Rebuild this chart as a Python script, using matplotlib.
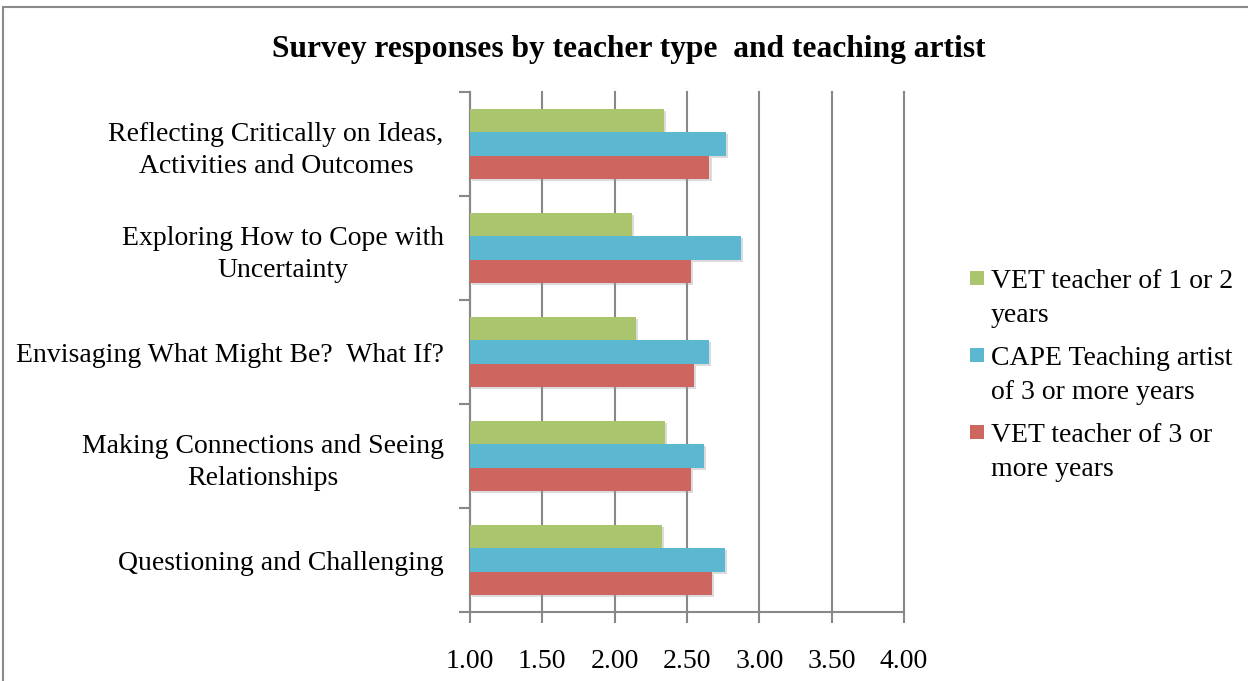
import matplotlib
matplotlib.use("Agg")
import matplotlib.pyplot as plt
import numpy as np
from matplotlib.patches import Rectangle
import matplotlib.patheffects as pe

categories = [
    "Reflecting Critically on Ideas,\nActivities and Outcomes",
    "Exploring How to Cope with\nUncertainty",
    "Envisaging What Might Be?  What If?",
    "Making Connections and Seeing\nRelationships",
    "Questioning and Challenging",
]
series_names = [
    "VET teacher of 1 or 2\nyears",
    "CAPE Teaching artist\nof 3 or more years",
    "VET teacher of 3 or\nmore years",
]
vet_1_2 = [2.34, 2.12, 2.15, 2.35, 2.33]
cape_3 = [2.77, 2.87, 2.65, 2.62, 2.76]
vet_3 = [2.655, 2.53, 2.55, 2.53, 2.67]
colors = ["#ABC46E", "#5BB8D0", "#CC665F"]
xticks = [1.0, 1.5, 2.0, 2.5, 3.0, 3.5, 4.0]
title = "Survey responses by teacher type  and teaching artist"

FONT = "Liberation Serif"
plt.rcParams["font.family"] = [FONT, "DejaVu Serif"]
FS = 20

fig = plt.figure(figsize=(12.48, 6.81), dpi=100)
ax = fig.add_axes([470/1248, 1-612/681, 434/1248, 520/681])

n = len(categories)
ypos = np.arange(n)[::-1]  # first category on top
h = 0.224
series = [vet_1_2, cape_3, vet_3]
offsets = [h, 0.0, -h]
shadow = [pe.SimplePatchShadow(offset=(1.5, -1.5), shadow_rgbFace="#999999", alpha=0.35), pe.Normal()]
for vals, off, c in zip(series, offsets, colors):
    bars = ax.barh(ypos + off, np.array(vals) - 1.0, left=1.0, height=h, color=c, zorder=3)
    for b in bars:
        b.set_path_effects(shadow)

ax.set_xlim(1.0, 4.0)
ax.set_ylim(-0.5, n - 0.5)
ax.set_xticks(xticks)
ax.set_xticklabels([f"{v:.2f}" for v in xticks], fontsize=FS)
ax.set_yticks(ypos)
ax.set_yticklabels(categories, fontsize=FS, multialignment="center", linespacing=1.35)
ax.set_yticks(np.arange(-0.5, n, 1.0), minor=True)
ax.tick_params(axis="y", which="major", length=0, pad=19)
ax.tick_params(axis="y", which="minor", length=8, width=1.5, color="#888888")
ax.tick_params(axis="x", which="major", length=8, width=1.5, color="#888888", pad=19)
ax.grid(axis="x", color="#888888", linewidth=1.5, zorder=0)
for gl in ax.get_xgridlines():
    gl.set_clip_on(False)
ax.set_axisbelow(True)
for s in ["top", "right"]:
    ax.spines[s].set_visible(False)
for s in ["left", "bottom"]:
    ax.spines[s].set_color("#888888")
    ax.spines[s].set_linewidth(1.5)

fig.text(629/1248, 1-49/681, title, ha="center", va="center", fontsize=22.7, fontweight="bold")

# legend drawn manually (square aligned with first text line)
lx = 970/1248
ly0 = 278
for i, (name, c) in enumerate(zip(series_names, colors)):
    yc = ly0 + i * 77
    fig.patches.append(Rectangle((lx, 1-(yc+7)/681), 14/1248, 14/681, transform=fig.transFigure,
                                 facecolor=c, edgecolor="none"))
    fig.text(991/1248, 1-(yc-9)/681, name, ha="left", va="top", fontsize=FS, linespacing=1.45)

# chart frame
fig.patches.append(Rectangle((3/1248, -0.05), 1.1, 1-7/681+0.05, transform=fig.transFigure,
                             facecolor="none", edgecolor="#8a8a8a", linewidth=1.5))

fig.savefig("out.png", dpi=100)
